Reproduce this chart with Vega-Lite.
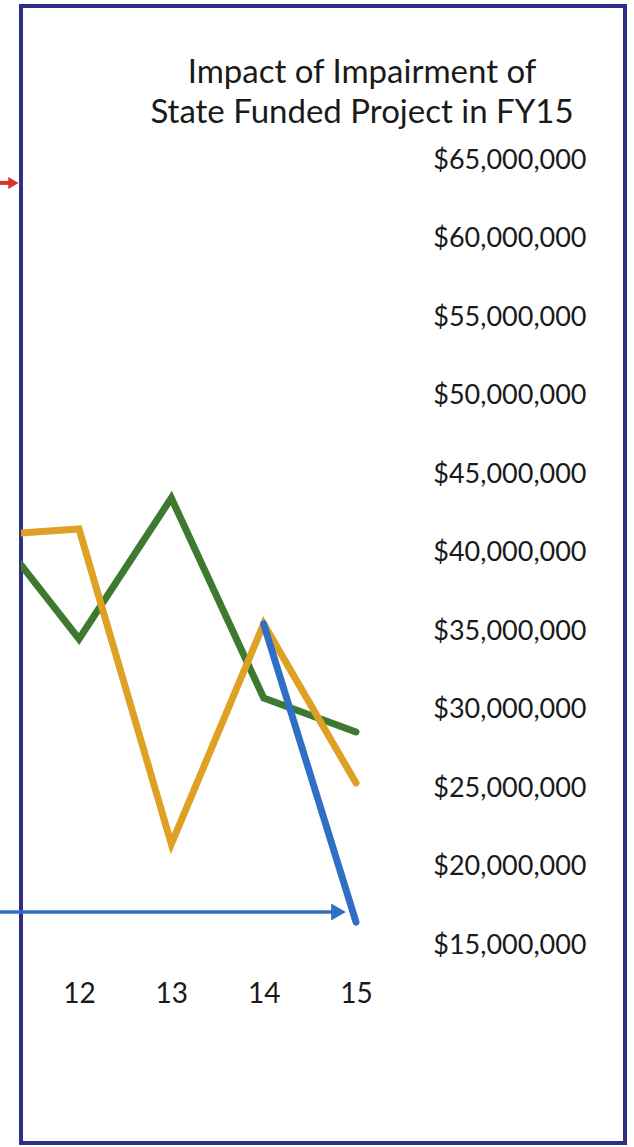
{
  "$schema": "https://vega.github.io/schema/vega-lite/v6.json",
  "width": 604,
  "height": 1137,
  "autosize": "none",
  "padding": {"left": 21, "top": 6, "right": 9, "bottom": 4},
  "background": "white",
  "config": {
    "font": "Lato",
    "view": {"stroke": "#2d3086", "strokeWidth": 4}
  },
  "title": {
    "text": ["Impact of Impairment of", "State Funded Project in FY15"],
    "font": "Lato",
    "fontSize": 33,
    "fontWeight": "normal",
    "color": "#1a1a1a",
    "anchor": "middle",
    "frame": "group",
    "dx": 39,
    "lineHeight": 40,
    "baseline": "top",
    "offset": -124
  },
  "layer": [
    {
      "data": {
        "values": [
          {"series": "Series 1", "fy": 11, "amount": 42000000},
          {"series": "Series 1", "fy": 12, "amount": 34490000},
          {"series": "Series 1", "fy": 13, "amount": 43470000},
          {"series": "Series 1", "fy": 14, "amount": 30730000},
          {"series": "Series 1", "fy": 15, "amount": 28570000},
          {"series": "Series 2", "fy": 11, "amount": 41100000},
          {"series": "Series 2", "fy": 12, "amount": 41500000},
          {"series": "Series 2", "fy": 13, "amount": 21430000},
          {"series": "Series 2", "fy": 14, "amount": 35450000},
          {"series": "Series 2", "fy": 15, "amount": 25320000},
          {"series": "Series 3", "fy": 14, "amount": 35450000},
          {"series": "Series 3", "fy": 15, "amount": 16460000}
        ]
      },
      "mark": {"type": "line", "clip": true, "strokeWidth": 7, "strokeCap": "round"},
      "encoding": {
        "x": {
          "field": "fy",
          "type": "quantitative",
          "scale": {"domain": [11.3718, 17.9133], "nice": false, "zero": false},
          "axis": {
            "title": null,
            "orient": "bottom",
            "values": [12, 13, 14, 15],
            "format": "d",
            "domain": false,
            "ticks": false,
            "tickSize": 0,
            "grid": false,
            "labelFont": "Lato",
            "labelFontSize": 28,
            "labelColor": "#1a1a1a",
            "labelBaseline": "middle",
            "labelPadding": -149,
            "labelFlush": false,
            "labelOverlap": false
          }
        },
        "y": {
          "field": "amount",
          "type": "quantitative",
          "scale": {"domain": [2389000, 74809000], "nice": false, "zero": false},
          "axis": {
            "title": null,
            "orient": "right",
            "values": [15000000, 20000000, 25000000, 30000000, 35000000, 40000000, 45000000, 50000000, 55000000, 60000000, 65000000],
            "format": "$,.0f",
            "domain": false,
            "ticks": false,
            "tickSize": 0,
            "grid": false,
            "labelFont": "Lato",
            "labelFontSize": 27,
            "labelColor": "#1a1a1a",
            "labelAlign": "right",
            "labelBaseline": "middle",
            "labelPadding": -39,
            "labelFlush": false,
            "labelOverlap": false
          }
        },
        "color": {
          "field": "series",
          "type": "nominal",
          "scale": {"domain": ["Series 1", "Series 2", "Series 3"], "range": ["#3d7a30", "#dea126", "#2f6fc6"]},
          "legend": null
        }
      }
    },
    {
      "data": {"values": [{}]},
      "mark": {"type": "rule", "clip": false, "color": "#2f6fc6", "strokeWidth": 3.5},
      "encoding": {
        "x": {"datum": 11.1444, "type": "quantitative"},
        "x2": {"datum": 14.81},
        "y": {"datum": 17100000, "type": "quantitative"}
      }
    },
    {
      "data": {"values": [{}]},
      "mark": {"type": "point", "clip": false, "shape": "triangle-right", "filled": true, "opacity": 1, "color": "#2f6fc6", "size": 289},
      "encoding": {
        "x": {"datum": 14.8104, "type": "quantitative"},
        "y": {"datum": 17100000, "type": "quantitative"}
      }
    },
    {
      "data": {"values": [{}]},
      "mark": {"type": "rule", "clip": false, "color": "#d9342b", "strokeWidth": 4},
      "encoding": {
        "x": {"datum": 11.1444, "type": "quantitative"},
        "x2": {"datum": 11.29},
        "y": {"datum": 63540000, "type": "quantitative"}
      }
    },
    {
      "data": {"values": [{}]},
      "mark": {"type": "point", "clip": false, "shape": "triangle-right", "filled": true, "opacity": 1, "color": "#d9342b", "size": 144},
      "encoding": {
        "x": {"datum": 11.29, "type": "quantitative"},
        "y": {"datum": 63540000, "type": "quantitative"}
      }
    }
  ]
}
